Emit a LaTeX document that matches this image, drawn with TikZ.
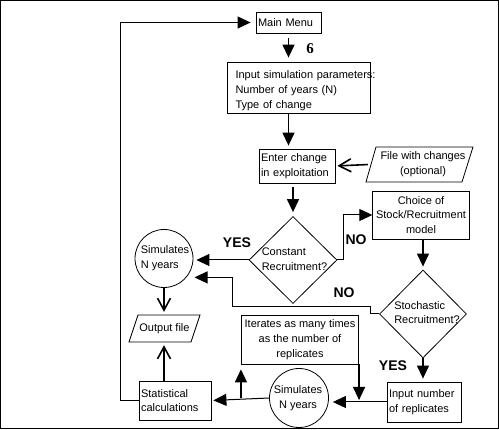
\documentclass[tikz,border=0pt]{standalone}
\usepackage{fontspec}
\setmainfont{Liberation Sans}
\newfontfamily\serifb{Liberation Serif}
\usetikzlibrary{arrows.meta,shapes.geometric}
\begin{document}
\begin{tikzpicture}[x=1pt,y=-1pt,
  every node/.style={font=\fontsize{11}{14.8}\selectfont},
  box/.style={draw,line width=0.8pt,inner ysep=1pt},
  txt/.style={inner sep=0pt},
  circ/.style={circle,draw,line width=0.8pt,minimum size=58pt,inner sep=0pt},
  dia/.style={diamond,draw,line width=0.8pt,inner sep=0pt},
  para/.style={draw,line width=0.8pt},
  arr/.style={line width=1.3pt,-{Triangle[width=12pt,length=13pt]}},
  thin arr/.style={line width=1pt,-{Triangle[width=12pt,length=13pt]}},
  open arr/.style={line width=1.6pt,-{Straight Barb[width=13pt,length=12pt,line width=1.6pt]}},
  lab/.style={font=\fontsize{14}{14}\selectfont\bfseries,inner sep=0pt},
]
\useasboundingbox (0,0) rectangle (499,430);
\draw[line width=1pt] (0.5,0.5) rectangle (498,429);

% nodes
\node[box,minimum width=65pt,minimum height=21pt,text width=61pt,inner xsep=2pt,align=left] (mainmenu) at (288.5,22.5) {Main Menu};
\node[box,minimum width=143pt,minimum height=51pt] (input) at (298.5,87.5) {};
\node[txt,text width=130pt,align=left,font=\fontsize{11}{15}\selectfont] (inputt) at (300.5,91)
  {\mbox{Input simulation parameters:}\\Number of years (N)\\Type of change};
\node[box,minimum width=76pt,minimum height=34pt,text width=72pt,inner xsep=2pt,align=left] (enter) at (297,166)
  {Enter change\\in exploitation};
\draw[para] (376,147) -- (473,147) -- (462,182) -- (366,182) -- cycle;
\node[txt,minimum width=101pt,align=center] (file) at (419.5,164.5) {\hspace*{7pt}File with changes\\\hspace*{7pt}(optional)};
\node[box,minimum width=96pt,minimum height=48pt,align=center] (choice) at (421,215)
  {Choice of\\Stock/Recruitment\\model};
\node[dia,minimum width=88pt,minimum height=87pt] (d1) at (293,260) {};
\node[txt,align=left] (d1t) at (294.5,259.5) {Constant\\Recruitment?};
\node[circ] (c1) at (164,258.5) {};
\node[txt,align=left] (c1t) at (165,258) {Simulates\\N years};
\node[dia,minimum width=87pt,minimum height=88pt] (d2) at (423,314) {};
\node[txt,align=left] (d2t) at (427,312.5) {Stochastic\\Recruitment?};
\draw[para] (138,315) -- (200,315) -- (191,342) -- (129,342) -- cycle;
\node[txt,minimum height=27pt] (output) at (164.5,328.5) {Output file};
\node[box,minimum width=114pt,minimum height=49pt,align=center] (iter) at (300,339.5)
  {Iterates as many times\\as the number of\\replicates};
\node[box,minimum width=72pt,minimum height=39pt,text width=68pt,inner xsep=2pt,align=left] (stat) at (175,400.5)
  {Statistical\\calculations};
\node[circ,minimum size=59pt] (c2) at (299,398) {};
\node[txt,align=center] (c2t) at (298,398) {Simulates\\N years};
\node[box,minimum width=74pt,minimum height=40pt,text width=70pt,inner xsep=2pt,align=left] (inputn) at (424,402)
  {Input number\\of replicates};

% labels
\node[inner sep=0pt,font=\serifb\fontsize{15}{15}\selectfont\bfseries] (six) at (310,49) {6};
\node[lab] (yes1) at (237,243) {YES};
\node[lab] (no1) at (356,240) {NO};
\node[lab] (no2) at (344,293) {NO};
\node[lab] (yes2) at (393,366) {YES};

% coordinates
\coordinate (loopx) at (120,0);
\coordinate (nox) at (232,0);
\coordinate (junc) at (iter.south east |- inputn.west);
\coordinate (upx) at (iter.south west |- c2.west);

% connectors
\draw[thin arr,shorten >=5pt] (stat.west) -- (stat.west -| loopx) -- (mainmenu.west -| loopx) -- (mainmenu.west);
\draw[arr,shorten <=5pt,shorten >=4pt] (mainmenu.south) -- (mainmenu.south |- input.north);
\draw[arr,shorten >=3pt] (input.south -| mainmenu.south) -- (enter.north -| mainmenu.south);
\draw[open arr,shorten <=1pt,shorten >=2pt] (file.west) -- (enter.east);
\draw[arr,shorten <=4pt,shorten >=4pt] (d1.north |- enter.south) -- (d1.north);
\draw[thin arr,shorten >=3pt] (d1.west) -- (d1.west -| c1.east);
\draw[thin arr] (d1.east) -- ++(6,0) |- (choice.west);
\draw[arr,shorten >=3pt] (d2.north |- choice.south) -- (d2.north);
\draw[thin arr,shorten >=8pt] (d2.west) -- ++(-9,0) -- ++(0,-7) -| (nox |- c1.-40) -- (c1.-40);
\draw[open arr,shorten >=3pt] (c1.south) -- (c1.south |- output.north);
\draw[open arr,shorten >=3pt] (stat.north -| c1.south) -- (output.south -| c1.south);
\draw[arr,shorten >=3pt] (d2.south) -- (d2.south |- inputn.north);
\draw[thin arr,shorten >=4pt] (inputn.west) -- (c2.east |- inputn.west);
\draw[arr,shorten >=2pt] (iter.south east) -- (junc);
\draw[thin arr,shorten >=2pt] (c2.west) -- (stat.east);
\draw[arr,shorten >=5pt] (upx) -- (iter.south west);
\end{tikzpicture}
\end{document}
